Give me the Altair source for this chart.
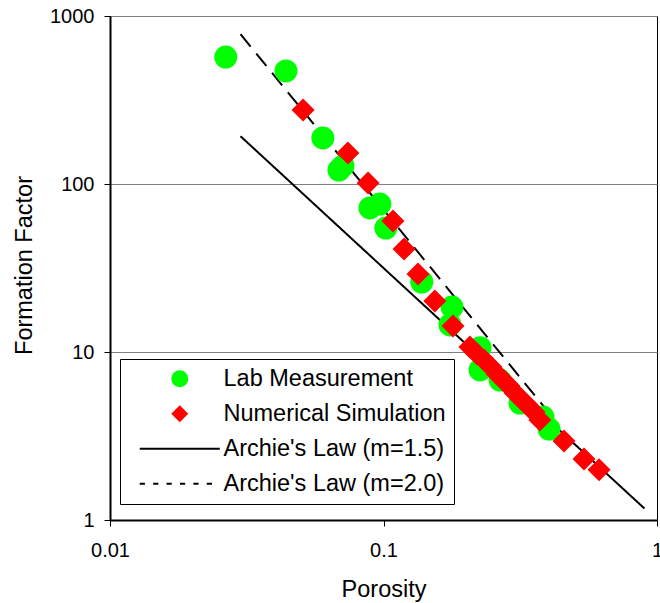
import altair as alt
import pandas as pd

# ---- data ----
series_names = [
    "Lab Measurement",
    "Numerical Simulation",
    "Archie's Law (m=1.5)",
    "Archie's Law (m=2.0)",
]

lab_phi = [0.0265, 0.044, 0.060, 0.0687, 0.0711, 0.0892, 0.097, 0.102, 0.138,
           0.178, 0.175, 0.2254, 0.2254, 0.2667, 0.3155, 0.383, 0.403]
lab_F = [570, 471, 188, 121, 128, 72, 76, 54.7, 26.1,
         18.5, 14.5, 10.6, 7.82, 6.81, 4.97, 4.10, 3.48]

sim_phi = [0.0508, 0.0741, 0.0878, 0.1083, 0.1189, 0.1337, 0.154, 0.1795,
           0.207, 0.2198, 0.2331, 0.2472, 0.260, 0.2735, 0.2876, 0.3025,
           0.318, 0.335, 0.355, 0.373, 0.457, 0.541, 0.614]
sim_F = [275.7, 152.9, 101.4, 60.2, 41.0, 29.1, 20.1, 14.3,
         10.7, 9.73, 8.96, 8.14, 7.40, 6.81, 6.28, 5.70,
         5.25, 4.84, 4.40, 3.94, 2.95, 2.31, 1.99]

archie15_phi = [0.03, 0.9]
archie15_F = [192.5, 1.17]
archie20_phi = [0.03, 0.4]
archie20_F = [780, 4.4]

x_ticks = [0.01, 0.1, 1]
y_ticks = [1, 10, 100, 1000]

points_df = pd.concat([
    pd.DataFrame({"phi": lab_phi, "F": lab_F, "series": series_names[0]}),
    pd.DataFrame({"phi": sim_phi, "F": sim_F, "series": series_names[1]}),
], ignore_index=True)

lines_df = pd.concat([
    pd.DataFrame({"phi": archie15_phi, "F": archie15_F, "series": series_names[2]}),
    pd.DataFrame({"phi": archie20_phi, "F": archie20_F, "series": series_names[3]}),
], ignore_index=True)

FONT = "Liberation Sans"
BIG = 23.5

x_enc = alt.X(
    "phi:Q",
    scale=alt.Scale(type="log", domain=[0.01, 1], nice=False),
    axis=alt.Axis(
        title="Porosity", values=x_ticks, format="~g", grid=False,
        labelFlush=False, labelOverlap=False, tickSize=6, tickColor="black",
        domainColor="black", domainWidth=2, labelFontSize=20, labelPadding=14,
        labelFont=FONT, labelColor="black", titleFont=FONT, titleFontSize=BIG,
        titleFontWeight="normal", titleColor="black", titleBaseline="alphabetic",
        titleY=76,
    ),
)
y_enc = alt.Y(
    "F:Q",
    scale=alt.Scale(type="log", domain=[1, 1000], nice=False),
    axis=alt.Axis(
        title="Formation Factor", values=y_ticks, format="d", grid=True,
        gridColor="#808080", gridWidth=1, labelFlush=False, labelOverlap=False,
        tickSize=6, tickColor="black", domainColor="black", domainWidth=2,
        labelFontSize=20, labelPadding=10, labelFont=FONT, labelColor="black",
        titleFont=FONT, titleFontSize=BIG, titleFontWeight="normal",
        titleColor="black", titleAngle=270, titleBaseline="alphabetic",
        titleAlign="center", titleX=-79, titleY=249,
    ),
)

# legend key glyphs for the two Archie lines, drawn as filled paths in the
# symbol's unit space (1 unit = 8.5 px for symbolSize 289)
U = 8.5


def rect(x0, x1, h=1.0):
    return (f"M{x0 / U:.3f},{-h / U:.3f}H{x1 / U:.3f}"
            f"V{h / U:.3f}H{x0 / U:.3f}Z")


SOLID_KEY = rect(-40, 40)
DASH_KEY = "".join(rect(-40 + i * 13.4, -40 + i * 13.4 + 5.2) for i in range(6))

color_scale = alt.Scale(domain=series_names,
                        range=["#00ff00", "#ff0000", "#000000", "#000000"])
shape_scale = alt.Scale(domain=series_names,
                        range=["circle", "diamond", SOLID_KEY, DASH_KEY])
dash_scale = alt.Scale(domain=series_names[2:], range=[[1, 0], [16, 9]])

legend = alt.Legend(
    title=None, orient="none", legendX=10, legendY=343, direction="vertical",
    fillColor="white", strokeColor="black", padding=8, cornerRadius=0,
    labelFont=FONT, labelFontSize=BIG, labelColor="black", labelLimit=400,
    labelExpr="datum.label + '  '",
    rowPadding=10, symbolSize=289, symbolStrokeWidth=0, symbolOpacity=1,
    symbolOffset=40, labelOffset=32,
)

lines = alt.Chart(lines_df).mark_line(strokeWidth=2, clip=True).encode(
    x=x_enc, y=y_enc,
    color=alt.value("#000000"),
    strokeDash=alt.StrokeDash("series:N", scale=dash_scale, legend=None),
)

points = alt.Chart(points_df).mark_point(
    filled=True, opacity=1, size=529, strokeWidth=0
).encode(
    x=x_enc, y=y_enc,
    color=alt.Color("series:N", scale=color_scale, legend=legend),
    shape=alt.Shape("series:N", scale=shape_scale, legend=legend),
)

chart = alt.layer(lines, points).properties(
    width=547, height=504,
    autosize=alt.AutoSizeParams(type="none"),
    padding={"left": 110, "top": 16, "right": 3, "bottom": 83},
    background="white",
).configure_view(stroke="black", strokeWidth=1)

chart.save("out.html", embed_options={"renderer": "svg", "actions": False})
